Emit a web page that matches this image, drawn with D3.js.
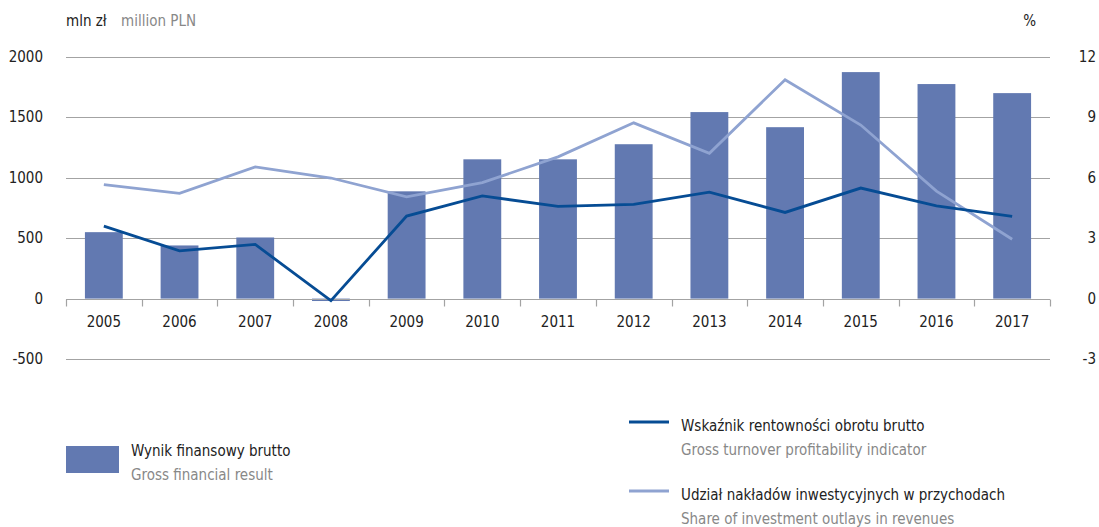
<!DOCTYPE html>
<html lang="pl">
<head>
  <meta charset="utf-8">
  <script src="https://d3js.org/d3.v7.min.js"></script>
  <style>
    body { margin: 0; background: #fff; }
    text { font-family: "Liberation Sans Narrow", "DejaVu Sans Condensed", sans-serif; }
  </style>
</head>
<body>
<div id="chart"></div>
<script>

// data
var years = ["2005","2006","2007","2008","2009","2010","2011","2012","2013","2014","2015","2016","2017"];
var grossResult = [550, 440, 506, -20, 888, 1153, 1153, 1278, 1544, 1419, 1875, 1776, 1701];   // mln zł
var profitability = [3.6, 2.37, 2.69, -0.1, 4.1, 5.1, 4.58, 4.68, 5.29, 4.28, 5.49, 4.6, 4.08]; // %
var investShare = [5.66, 5.23, 6.54, 5.99, 5.05, 5.76, 7.04, 8.73, 7.22, 10.87, 8.62, 5.34, 2.95]; // %
var leftTicks = [-500, 0, 500, 1000, 1500, 2000];
var rightTicks = [-3, 0, 3, 6, 9, 12];

var W = 1099, H = 527;
var plotL = 66, plotR = 1050, plotT = 57, plotB = 359;

var svg = d3.select("#chart").append("svg")
  .attr("width", W)
  .attr("height", H);

var x = d3.scaleBand()
  .domain(years)
  .range([plotL, plotR])
  .paddingInner(0.5)
  .paddingOuter(0.25);

var y = d3.scaleLinear().domain([-500, 2000]).range([plotB, plotT]);
var y2 = d3.scaleLinear().domain([-3, 12]).range([plotB, plotT]);
var zeroY = Math.round(y(0)) + 0.5;

// gridlines
svg.append("g")
  .selectAll("line")
  .data(leftTicks.filter(function(d){ return d != 0; }))
  .enter().append("line")
    .attr("x1", plotL).attr("x2", plotR)
    .attr("y1", function(d){ return Math.round(y(d)) + 0.5; })
    .attr("y2", function(d){ return Math.round(y(d)) + 0.5; })
    .style("stroke", "#a3a3a3")
    .style("stroke-width", 1.2);

// left axis labels
svg.append("g")
  .selectAll("text")
  .data(leftTicks)
  .enter().append("text")
    .attr("x", 43)
    .attr("y", function(d){ return y(d) + 5; })
    .attr("text-anchor", "end")
    .style("font-size", "15px")
    .style("fill", "#222")
    .text(function(d){ return d; });

// right axis labels
svg.append("g")
  .selectAll("text")
  .data(rightTicks)
  .enter().append("text")
    .attr("x", 1096)
    .attr("y", function(d){ return y2(d) + 5; })
    .attr("text-anchor", "end")
    .style("font-size", "15px")
    .style("fill", "#222")
    .text(function(d){ return d; });

// bars
svg.append("g")
  .selectAll("rect")
  .data(years)
  .enter().append("rect")
    .attr("x", function(d){ return x(d); })
    .attr("width", x.bandwidth())
    .attr("y", function(d, i){ return Math.min(y(grossResult[i]), y(0)); })
    .attr("height", function(d, i){ return Math.abs(y(grossResult[i]) - y(0)); })
    .style("fill", "#6279b1");

// category axis at zero
var xAxis = d3.axisBottom(x).tickSize(0).tickPadding(17);
var gx = svg.append("g")
  .attr("transform", "translate(0," + zeroY + ")")
  .call(xAxis);
gx.select(".domain").remove();
gx.selectAll("text")
  .style("font-size", "15px")
  .style("fill", "#222")
  .style("font-family", "\"Liberation Sans Narrow\", \"DejaVu Sans Condensed\", sans-serif");

svg.append("line")
  .attr("x1", plotL).attr("x2", plotR)
  .attr("y1", zeroY).attr("y2", zeroY)
  .style("stroke", "#a3a3a3")
  .style("stroke-width", 1.2);

var edges = [plotL].concat(years.map(function(d){ return x(d) + x.bandwidth() * 1.5; }));
svg.append("g")
  .selectAll("line")
  .data(edges)
  .enter().append("line")
    .attr("x1", function(d){ return Math.round(d) + 0.5; })
    .attr("x2", function(d){ return Math.round(d) + 0.5; })
    .attr("y1", zeroY)
    .attr("y2", zeroY + 7)
    .style("stroke", "#a3a3a3")
    .style("stroke-width", 1.2);

// lines
var line = function(vals) {
  return d3.line()
    .x(function(d, i){ return x(years[i]) + x.bandwidth() / 2; })
    .y(function(d){ return y2(d); })(vals);
};

svg.append("path")
  .attr("d", line(investShare))
  .style("fill", "none")
  .style("stroke", "#8fa3d1")
  .style("stroke-width", 2.8);

svg.append("path")
  .attr("d", line(profitability))
  .style("fill", "none")
  .style("stroke", "#064c94")
  .style("stroke-width", 2.8);

// unit labels
svg.append("text").attr("x", 66).attr("y", 26)
  .style("font-size", "15px").style("fill", "#222").text("mln zł");
svg.append("text").attr("x", 121).attr("y", 26)
  .style("font-size", "15px").style("fill", "#888").text("million PLN");
svg.append("text").attr("x", 1036).attr("y", 26).attr("text-anchor", "end")
  .style("font-size", "15px").style("fill", "#222").text("%");

// legend
svg.append("rect")
  .attr("x", 66).attr("y", 446).attr("width", 53).attr("height", 27)
  .style("fill", "#6279b1");
svg.append("text").attr("x", 131).attr("y", 456)
  .style("font-size", "15px").style("fill", "#222").text("Wynik finansowy brutto");
svg.append("text").attr("x", 131).attr("y", 480)
  .style("font-size", "15px").style("fill", "#888").text("Gross financial result");

var legendLines = [
  {pl: "Wskaźnik rentowności obrotu brutto", en: "Gross turnover profitability indicator", color: "#064c94", y: 422},
  {pl: "Udział nakładów inwestycyjnych w przychodach", en: "Share of investment outlays in revenues", color: "#8fa3d1", y: 491}
];
var lg = svg.append("g").selectAll("g")
  .data(legendLines)
  .enter().append("g");
lg.append("line")
  .attr("x1", 629).attr("x2", 669)
  .attr("y1", function(d){ return d.y; }).attr("y2", function(d){ return d.y; })
  .style("stroke", function(d){ return d.color; })
  .style("stroke-width", 2.8);
lg.append("text")
  .attr("x", 681).attr("y", function(d){ return d.y + 9; })
  .style("font-size", "15px").style("fill", "#222")
  .text(function(d){ return d.pl; });
lg.append("text")
  .attr("x", 681).attr("y", function(d){ return d.y + 33; })
  .style("font-size", "15px").style("fill", "#888")
  .text(function(d){ return d.en; });

</script>
</body>
</html>
